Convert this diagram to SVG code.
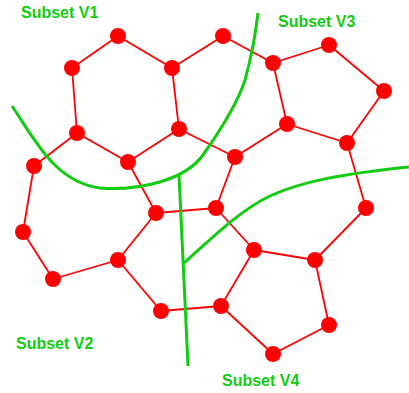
<svg xmlns="http://www.w3.org/2000/svg" width="409" height="393" viewBox="0 0 409 393">
  <style>
    .edge { stroke: #ff0000; stroke-width: 1.8; fill: none; }
    .cut { stroke: #11cc11; stroke-width: 3; fill: none; stroke-linecap: butt; }
    .node { fill: #ff0000; }
    .label { font-family: "Liberation Sans", Arial, sans-serif; font-weight: bold; font-size: 16px; fill: #11cc11; }
  </style>
  <rect width="409" height="393" fill="#ffffff"/>

  <!-- graph edges -->
  <g id="connectors">
    <line class="edge" x1="118" y1="36" x2="72" y2="68"/>
    <line class="edge" x1="118" y1="36" x2="172" y2="68"/>
    <line class="edge" x1="72" y1="68" x2="77" y2="133"/>
    <line class="edge" x1="172" y1="68" x2="223" y2="36"/>
    <line class="edge" x1="172" y1="68" x2="179" y2="129"/>
    <line class="edge" x1="223" y1="36" x2="273" y2="63"/>
    <line class="edge" x1="273" y1="63" x2="329" y2="45"/>
    <line class="edge" x1="273" y1="63" x2="287" y2="124"/>
    <line class="edge" x1="329" y1="45" x2="384" y2="91"/>
    <line class="edge" x1="384" y1="91" x2="347" y2="143"/>
    <line class="edge" x1="287" y1="124" x2="347" y2="143"/>
    <line class="edge" x1="287" y1="124" x2="235" y2="157"/>
    <line class="edge" x1="179" y1="129" x2="235" y2="157"/>
    <line class="edge" x1="179" y1="129" x2="128" y2="162"/>
    <line class="edge" x1="77" y1="133" x2="128" y2="162"/>
    <line class="edge" x1="77" y1="133" x2="34" y2="166"/>
    <line class="edge" x1="34" y1="166" x2="23" y2="232"/>
    <line class="edge" x1="23" y1="232" x2="53" y2="279"/>
    <line class="edge" x1="53" y1="279" x2="118" y2="260"/>
    <line class="edge" x1="118" y1="260" x2="156" y2="213"/>
    <line class="edge" x1="128" y1="162" x2="156" y2="213"/>
    <line class="edge" x1="156" y1="213" x2="216" y2="208"/>
    <line class="edge" x1="216" y1="208" x2="235" y2="157"/>
    <line class="edge" x1="347" y1="143" x2="366" y2="208"/>
    <line class="edge" x1="366" y1="208" x2="315" y2="260"/>
    <line class="edge" x1="216" y1="208" x2="254" y2="250"/>
    <line class="edge" x1="254" y1="250" x2="315" y2="260"/>
    <line class="edge" x1="315" y1="260" x2="329" y2="325"/>
    <line class="edge" x1="329" y1="325" x2="273" y2="354"/>
    <line class="edge" x1="273" y1="354" x2="221" y2="306"/>
    <line class="edge" x1="221" y1="306" x2="254" y2="250"/>
    <line class="edge" x1="221" y1="306" x2="161" y2="311"/>
    <line class="edge" x1="161" y1="311" x2="118" y2="260"/>
  </g>

  <!-- partition boundaries -->
  <g id="boundaries">
    <path class="cut" d="M12,106 C35,140 55,182 100,188 C140,191 185,180 203,155 C222,128 238,102 245,80 C252,55 256,30 258,13"/>
    <path class="cut" d="M179,175 L188,366"/>
    <path class="cut" d="M184,263 C210,240 240,210 270,196 C300,182 340,174 409,167"/>
  </g>

  <!-- vertices -->
  <g id="nodes">
    <circle id="n1" class="node" cx="118" cy="36" r="8"/>
    <circle id="n2" class="node" cx="72" cy="68" r="8"/>
    <circle id="n3" class="node" cx="172" cy="68" r="8"/>
    <circle id="n4" class="node" cx="223" cy="36" r="8"/>
    <circle id="n5" class="node" cx="273" cy="63" r="8"/>
    <circle id="n6" class="node" cx="329" cy="45" r="8"/>
    <circle id="n7" class="node" cx="384" cy="91" r="8"/>
    <circle id="n8" class="node" cx="77" cy="133" r="8"/>
    <circle id="n9" class="node" cx="179" cy="129" r="8"/>
    <circle id="n10" class="node" cx="287" cy="124" r="8"/>
    <circle id="n11" class="node" cx="347" cy="143" r="8"/>
    <circle id="n12" class="node" cx="34" cy="166" r="8"/>
    <circle id="n13" class="node" cx="128" cy="162" r="8"/>
    <circle id="n14" class="node" cx="235" cy="157" r="8"/>
    <circle id="n15" class="node" cx="156" cy="213" r="8"/>
    <circle id="n16" class="node" cx="216" cy="208" r="8"/>
    <circle id="n17" class="node" cx="366" cy="208" r="8"/>
    <circle id="n18" class="node" cx="23" cy="232" r="8"/>
    <circle id="n19" class="node" cx="118" cy="260" r="8"/>
    <circle id="n20" class="node" cx="254" cy="250" r="8"/>
    <circle id="n21" class="node" cx="315" cy="260" r="8"/>
    <circle id="n22" class="node" cx="53" cy="279" r="8"/>
    <circle id="n23" class="node" cx="161" cy="311" r="8"/>
    <circle id="n24" class="node" cx="221" cy="306" r="8"/>
    <circle id="n25" class="node" cx="329" cy="325" r="8"/>
    <circle id="n26" class="node" cx="273" cy="354" r="8"/>
  </g>

  <!-- subset labels -->
  <g id="labels">
    <text class="label" x="21" y="18">Subset V1</text>
    <text class="label" x="278" y="27">Subset V3</text>
    <text class="label" x="16" y="349">Subset V2</text>
    <text class="label" x="222" y="386">Subset V4</text>
  </g>
</svg>
